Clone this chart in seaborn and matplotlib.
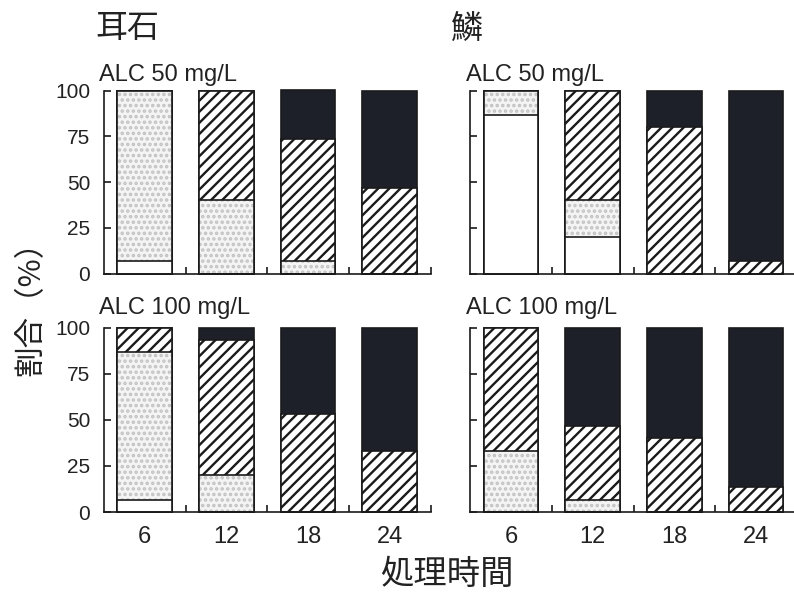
import numpy as np
import pandas as pd
import matplotlib
matplotlib.use("Agg")
import matplotlib.pyplot as plt
import seaborn as sns

# time points (h)
times = ["6", "12", "18", "24"]

# percentage in each class (n = 15 per group)
# otolith (耳石), ALC 50 mg/L
oto50_white = [6.7, 0, 0, 0]
oto50_dot = [93.3, 40.0, 6.7, 0]
oto50_hatch = [0, 60.0, 66.7, 46.7]
oto50_black = [0, 0, 26.7, 53.3]
# scale (鱗), ALC 50 mg/L
sca50_white = [86.7, 20.0, 0, 0]
sca50_dot = [13.3, 20.0, 0, 0]
sca50_hatch = [0, 60.0, 80.0, 6.7]
sca50_black = [0, 0, 20.0, 93.3]
# otolith, ALC 100 mg/L
oto100_white = [6.7, 0, 0, 0]
oto100_dot = [80.0, 20.0, 0, 0]
oto100_hatch = [13.3, 73.3, 53.3, 33.3]
oto100_black = [0, 6.7, 46.7, 66.7]
# scale, ALC 100 mg/L
sca100_white = [0, 0, 0, 0]
sca100_dot = [33.3, 6.7, 0, 0]
sca100_hatch = [66.7, 40.0, 40.0, 13.3]
sca100_black = [0, 53.3, 60.0, 86.7]

BLACK = "#1d2029"
DOT_FACE = "#f4f4f4"
DOT_COLOR = "#c2c2c2"
LINE = "#1a1a1a"

sns.set_theme(style="ticks")
plt.rcParams["font.family"] = ["Liberation Sans", "Noto Sans CJK JP", "DejaVu Sans"]
plt.rcParams["hatch.linewidth"] = 1.7
plt.rcParams["axes.linewidth"] = 1.2
CJK = ["Noto Sans CJK JP", "DejaVu Sans"]


def draw_panel(ax, white, dot, hatch, black, show_ylabels, show_xlabels):
    df = pd.DataFrame({"time": times, "white": white, "dot": dot,
                       "hatch": hatch, "black": black})
    df["c1"] = df["white"]
    df["c2"] = df["c1"] + df["dot"]
    df["c3"] = df["c2"] + df["hatch"]
    df["c4"] = df["c3"] + df["black"]
    common = dict(data=df, x="time", order=times, width=0.67, saturation=1,
                  errorbar=None, ax=ax, clip_on=False)
    # stacked by overlaying cumulative heights, top layer first
    sns.barplot(y="c4", facecolor=BLACK, edgecolor=LINE, linewidth=1.2, **common)
    sns.barplot(y="c3", facecolor="white", edgecolor=LINE, hatch="///",
                linewidth=1.2, **common)
    sns.barplot(y="c2", facecolor=DOT_FACE, edgecolor=DOT_COLOR, hatch="...",
                linewidth=0, **common)
    sns.barplot(y="c2", facecolor="none", edgecolor=LINE, linewidth=1.2, **common)
    sns.barplot(y="c1", facecolor="white", edgecolor=LINE, linewidth=1.2, **common)

    ax.set_xlim(-0.5, 3.5)
    ax.set_ylim(0, 100)
    ax.set_yticks([0, 25, 50, 75, 100])
    ax.set_xlabel("")
    ax.set_ylabel("")
    ax.set_xticks([0.5, 1.5, 2.5, 3.5], minor=True)
    ax.tick_params(axis="x", which="major", length=0, pad=10, labelsize=17,
                   labelcolor="#222222", labelbottom=show_xlabels)
    ax.tick_params(axis="x", which="minor", direction="in", length=5, width=1.2,
                   color=LINE)
    ax.tick_params(axis="y", direction="in", length=5, width=1.2, color=LINE,
                   pad=10, labelsize=15, labelcolor="#222222",
                   labelleft=show_ylabels)
    sns.despine(ax=ax)
    for s in ("left", "bottom"):
        ax.spines[s].set_color(LINE)


fig = plt.figure(figsize=(7.94, 5.92), dpi=100)
W, H = 794, 592


def add_axes(left_px, top_px, bottom_px, width_px=326.5):
    return fig.add_axes([left_px / W, 1 - bottom_px / H, width_px / W,
                         (bottom_px - top_px) / H])


ax_tl = add_axes(104, 90.5, 273.5)
ax_tr = add_axes(470.3, 90.5, 273.5)
ax_bl = add_axes(104, 327.5, 512)
ax_br = add_axes(470.3, 327.5, 512)

draw_panel(ax_tl, oto50_white, oto50_dot, oto50_hatch, oto50_black, True, False)
draw_panel(ax_tr, sca50_white, sca50_dot, sca50_hatch, sca50_black, False, False)
draw_panel(ax_bl, oto100_white, oto100_dot, oto100_hatch, oto100_black, True, True)
draw_panel(ax_br, sca100_white, sca100_dot, sca100_hatch, sca100_black, False, True)

# headings
fig.text(95 / W, 1 - 28 / H, "耳石", fontsize=23, family=CJK, va="center",
         color="#222222")
fig.text(450 / W, 1 - 30 / H, "鱗", fontsize=23, family=CJK, va="center",
         color="#222222")
fig.text(99 / W, 1 - 81 / H, "ALC 50 mg/L", fontsize=17, va="baseline",
         color="#222222")
fig.text(466 / W, 1 - 81 / H, "ALC 50 mg/L", fontsize=17, va="baseline",
         color="#222222")
fig.text(99 / W, 1 - 314 / H, "ALC 100 mg/L", fontsize=17, va="baseline",
         color="#222222")
fig.text(466 / W, 1 - 314 / H, "ALC 100 mg/L", fontsize=17, va="baseline",
         color="#222222")

# axis titles
fig.text(31 / W, 1 - 301 / H, "割合（%）", fontsize=22, family=CJK,
         rotation=90, ha="center", va="center", color="#222222")
fig.text(447 / W, 1 - 574 / H, "処理時間", fontsize=24, family=CJK,
         ha="center", va="center", color="#222222")

fig.savefig("out.png", dpi=100)
